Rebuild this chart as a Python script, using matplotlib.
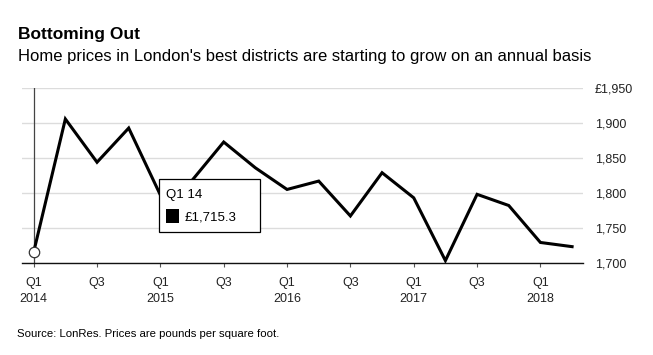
import matplotlib
matplotlib.use("Agg")
import matplotlib.pyplot as plt
from matplotlib.patches import Rectangle

plt.rcParams["font.family"] = ["Liberation Sans", "DejaVu Sans"]

# quarterly prices, Q1 2014 .. Q2 2018 (pounds per sq ft)
quarters = ["Q1 14", "Q2 14", "Q3 14", "Q4 14",
            "Q1 15", "Q2 15", "Q3 15", "Q4 15",
            "Q1 16", "Q2 16", "Q3 16", "Q4 16",
            "Q1 17", "Q2 17", "Q3 17", "Q4 17",
            "Q1 18", "Q2 18"]
prices = [1715.3, 1906, 1844, 1893,
          1797, 1818, 1873, 1836,
          1805, 1817, 1767, 1829,
          1793, 1703, 1798, 1782,
          1729, 1723]

tick_labels = ["Q1\n2014", "Q3", "Q1\n2015", "Q3", "Q1\n2016", "Q3",
               "Q1\n2017", "Q3", "Q1\n2018"]
y_ticks = [1700, 1750, 1800, 1850, 1900, 1950]
y_labels = ["1,700", "1,750", "1,800", "1,850", "1,900", "£1,950"]

hover_idx = 0

W, H = 653, 355
fig = plt.figure(figsize=(W / 100, H / 100), dpi=100)
ax = fig.add_axes([22 / W, 1 - 262.7 / H, (583.3 - 22) / W, (262.7 - 88.3) / H])

x = list(range(len(prices)))
ax.plot(x, prices, color="black", lw=2.2, solid_joinstyle="miter", zorder=3)

ax.set_xlim(-0.369, 17.354)
ax.set_ylim(1700, 1950)

ax.set_yticks(y_ticks)
ax.set_yticklabels(y_labels)
ax.yaxis.tick_right()
ax.tick_params(axis="y", length=0, pad=8.2, labelsize=9, labelcolor="#222222")
ax.grid(axis="y", color="#dcdcdc", lw=1.0, zorder=0)

ax.set_xticks(x[::2])
ax.set_xticklabels(tick_labels, linespacing=1.45)
ax.tick_params(axis="x", length=3, width=0.8, color="#555555", pad=7,
               labelsize=9, labelcolor="#222222")

for s in ["top", "left", "right"]:
    ax.spines[s].set_visible(False)
ax.spines["bottom"].set_color("#111111")
ax.spines["bottom"].set_linewidth(1.0)
ax.spines["bottom"].set_zorder(4)

# hover crosshair + marker
ax.axvline(hover_idx, color="#444444", lw=0.9, zorder=2)
ax.plot([hover_idx], [prices[hover_idx]], marker="o", ms=7.5, mfc="white",
        mec="#333333", mew=0.9, zorder=5, clip_on=False)

# tooltip box
fig.patches.append(Rectangle((159.3 / W, 1 - 232.3 / H), 101 / W, 53 / H,
                             transform=fig.transFigure, facecolor="white",
                             edgecolor="black", lw=0.9, zorder=10))
fig.text(166.5 / W, 1 - 198.3 / H, quarters[hover_idx], fontsize=9.5,
         va="baseline", zorder=11)
fig.patches.append(Rectangle((166 / W, 1 - 222.7 / H), 13.3 / W, 13.3 / H,
                             transform=fig.transFigure, facecolor="black",
                             edgecolor="none", zorder=11))
fig.text(184.3 / W, 1 - 220.7 / H, "£{:,.1f}".format(prices[hover_idx]),
         fontsize=9.5, va="baseline", zorder=11)

fig.text(18 / W, 1 - 39 / H, "Bottoming Out", fontsize=12.5,
         fontweight="bold", va="baseline")
fig.text(18 / W, 1 - 61 / H,
         "Home prices in London's best districts are starting to grow on an annual basis",
         fontsize=12, va="baseline")
fig.text(16.7 / W, 1 - 336.7 / H,
         "Source: LonRes. Prices are pounds per square foot.",
         fontsize=8.2, va="baseline")

fig.savefig("out.png", dpi=100)
